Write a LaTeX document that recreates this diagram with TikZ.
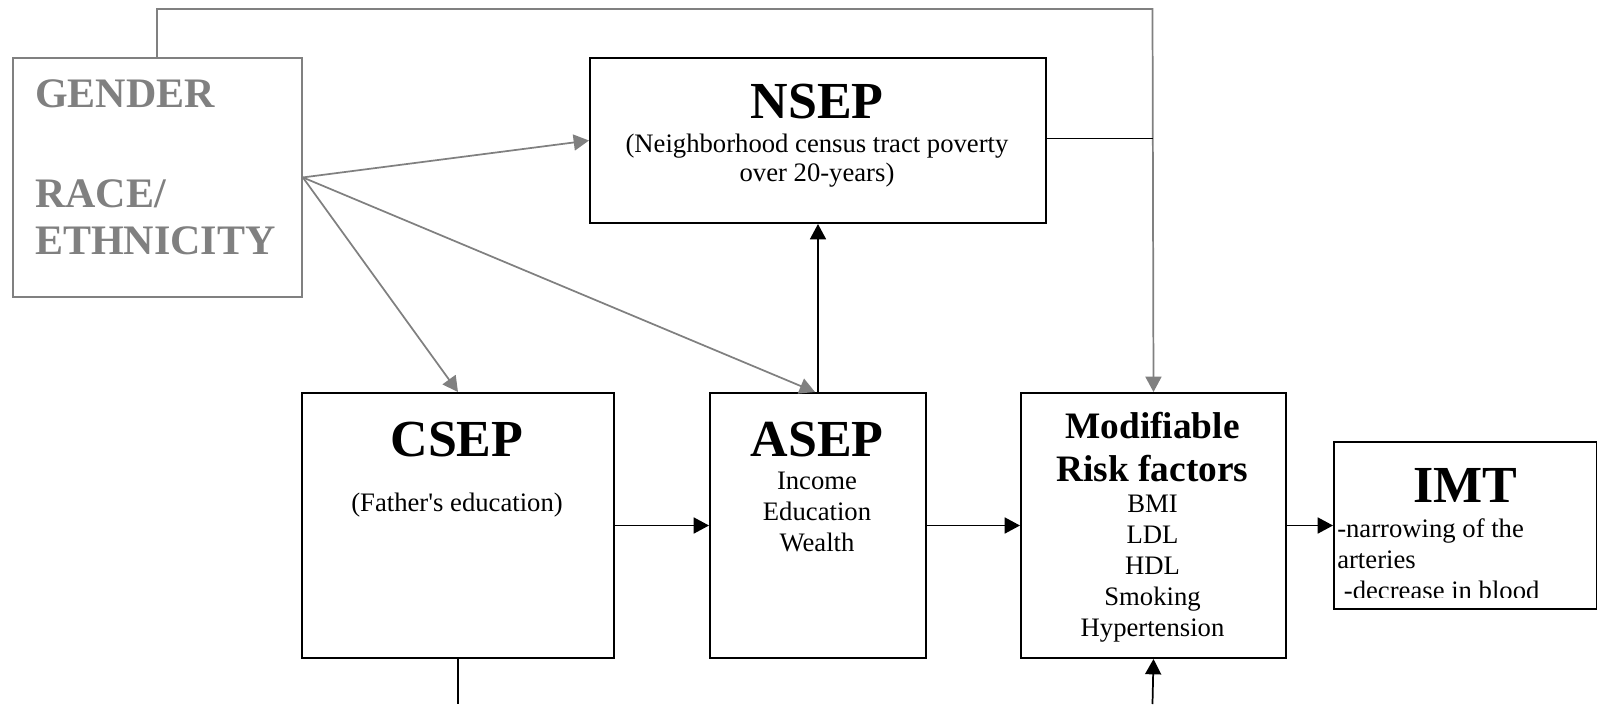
\documentclass[tikz,border=0pt]{standalone}
\usepackage{fontspec}
\setmainfont{Liberation Serif}
\usetikzlibrary{arrows.meta}
\definecolor{gr}{RGB}{128,128,128}
\begin{document}
\begin{tikzpicture}[x=0.75pt,y=-0.75pt,
  box/.style={draw=black,line width=1.5pt,inner sep=0pt,anchor=north west},
  gbox/.style={draw=gr,line width=1.4pt,inner sep=0pt,anchor=north west},
  arr/.style={-{Triangle[length=11.5pt,width=12pt]},line width=1.3pt,draw=black},
  garr/.style={-{Triangle[length=11.5pt,width=12pt]},line width=1.3pt,draw=gr},
  bline/.style={line width=1.3pt,draw=black},
  gtext/.style={inner sep=0pt,anchor=base west,text=gr,font=\fontsize{31.5}{36}\selectfont\bfseries},
  ttl/.style={inner sep=0pt,anchor=base,font=\fontsize{39}{44}\selectfont\bfseries},
  mttl/.style={inner sep=0pt,anchor=base,font=\fontsize{28}{32}\selectfont\bfseries},
  sub/.style={inner sep=0pt,anchor=base,font=\fontsize{20}{23.25}\selectfont}]
\useasboundingbox (0,0) rectangle (1597,704);
% boxes
\node[gbox,minimum width=216.75pt,minimum height=179.25pt] (gender) at (12,57) {};
\node[box,minimum width=342pt,minimum height=123.75pt] (nsep) at (589,57) {};
\node[box,minimum width=234pt,minimum height=198.75pt] (csep) at (301,392) {};
\node[box,minimum width=162pt,minimum height=198.75pt] (asep) at (709,392) {};
\node[box,minimum width=198.75pt,minimum height=198.75pt] (mod) at (1020,392) {};
\node[box,minimum width=197.25pt,minimum height=125.25pt] (imt) at (1333,441) {};
% texts
\node[gtext] (g1) at (35,107) {GENDER};
\node[gtext] (g2) at (35,207) {RACE/};
\node[gtext] (g3) at (35,254) {ETHNICITY};
\node[ttl] (nt) at (817,118) {NSEP};
\node[sub] (ns1) at (817,152) {(Neighborhood census tract poverty};
\node[sub] (ns2) at (817,181) {over 20-years)};
\node[ttl] (ct) at (457,456) {CSEP};
\node[sub] (cs1) at (457,511) {(Father\textquotesingle s education)};
\node[ttl] (at) at (817,456) {ASEP};
\node[sub] (as1) at (817,489) {Income};
\node[sub] (as2) at (817,520) {Education};
\node[sub] (as3) at (817,551) {Wealth};
\node[mttl] (mt1) at (1152.5,438) {Modifiable};
\node[mttl] (mt2) at (1152.5,481) {Risk factors};
\node[sub] (ms1) at (1152.5,512) {BMI};
\node[sub] (ms2) at (1152.5,543) {LDL};
\node[sub] (ms3) at (1152.5,574) {HDL};
\node[sub] (ms4) at (1152.5,605) {Smoking};
\node[sub] (ms5) at (1152.5,636) {Hypertension};
\node[ttl] (it) at (1465,502) {IMT};
\begin{scope}
\clip (1334,443) rectangle (1595,597);
\node[sub,anchor=base west] (is1) at (1337,537) {-narrowing of the};
\node[sub,anchor=base west] (is2) at (1337,568) {arteries};
\node[sub,anchor=base west] (is3) at (1337,599) {\ -decrease in blood};
\end{scope}
% connectors
\coordinate (t1) at (157,9);
\coordinate (t2) at (1152.5,9);
\coordinate (b1) at (457,704);
\coordinate (b2) at (1152.5,704);
\draw[garr] (gender.north -| t1) -- (t1) -- (t2) -- (mod.north);
\draw[bline] ([yshift=1.5pt]nsep.east) -- ([yshift=1.5pt]nsep.east -| t2);
\draw[garr] (gender.east) -- (nsep.west);
\draw[garr] (gender.east) -- (csep.north);
\draw[garr] (gender.east) -- ([xshift=-2.25pt]asep.north);
\draw[arr] (asep.north) -- (nsep.south -| asep.north);
\draw[arr] (csep.east) -- (asep.west);
\draw[arr] (asep.east) -- (mod.west);
\draw[arr] (mod.east) -- (imt.west);
\draw[bline] (csep.south) -- (csep.south |- b1);
\draw[arr] (b2) -- (mod.south);
\end{tikzpicture}
\end{document}
